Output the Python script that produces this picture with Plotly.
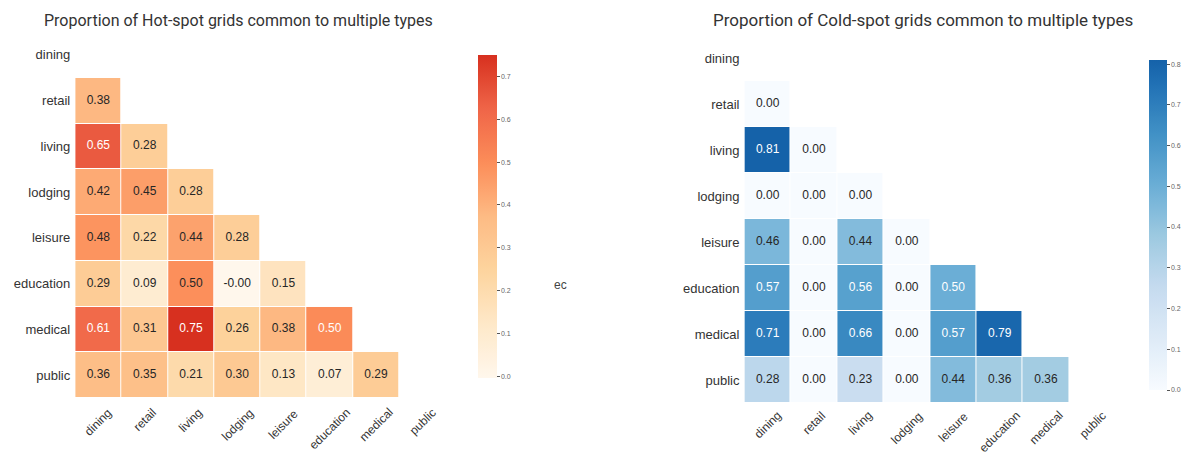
import plotly.graph_objects as go
from plotly.colors import sample_colorscale

categories = ["dining", "retail", "living", "lodging", "leisure", "education", "medical", "public"]

# Lower-triangle shares (row i holds columns 0..i-1); diagonal and upper half are masked.
hot_rows = [
    [],
    [0.38],
    [0.65, 0.28],
    [0.42, 0.45, 0.28],
    [0.48, 0.22, 0.44, 0.28],
    [0.29, 0.09, 0.4951, -0.004, 0.15],
    [0.61, 0.31, 0.75, 0.26, 0.38, 0.5049],
    [0.36, 0.35, 0.21, 0.30, 0.13, 0.07, 0.29],
]
cold_rows = [
    [],
    [0.00],
    [0.81, 0.00],
    [0.00, 0.00, 0.00],
    [0.46, 0.00, 0.44, 0.00],
    [0.57, 0.00, 0.56, 0.00, 0.50],
    [0.71, 0.00, 0.66, 0.00, 0.57, 0.79],
    [0.28, 0.00, 0.23, 0.00, 0.44, 0.36, 0.36],
]

hot_title = "Proportion of Hot-spot grids common to multiple types"
cold_title = "Proportion of Cold-spot grids common to multiple types"

W, H = 1192, 454
LABEL_FONT = "Liberation Sans, Arial, sans-serif"
TITLE_FONT = "Roboto, sans-serif"


def full_matrix(rows):
    n = len(categories)
    return [[rows[i][j] if j < len(rows[i]) else None for j in range(n)] for i in range(n)]


def sub_scale(name, lo, hi, n=41):
    """Colour scale spanning [lo, hi] of a 0..1 sequential palette."""
    pts = [k / (n - 1) for k in range(n)]
    vals = [min(1.0, max(0.0, lo + (hi - lo) * t)) for t in pts]
    cols = sample_colorscale(name, vals)
    return [[p, c] for p, c in zip(pts, cols)]


def px_x(p):
    return p / W


def px_y(p):
    return 1 - p / H


fig = go.Figure()
annotations = []


def add_panel(rows, palette, xaxis, yaxis, cbar, light_text_above):
    z = full_matrix(rows)
    flat = [v for r in rows for v in r]
    zmin, zmax = min(flat), max(flat)
    scale = sub_scale(palette, max(0.0, zmin), zmax)
    fig.add_trace(go.Heatmap(
        z=z, x=categories, y=categories,
        zmin=zmin, zmax=zmax, colorscale=scale,
        xgap=1, ygap=1, hoverongaps=False,
        xaxis=xaxis, yaxis=yaxis,
        colorbar=cbar,
    ))
    tx, ty, tt, tc = [], [], [], []
    for i, r in enumerate(rows):
        for j, v in enumerate(r):
            tx.append(categories[j])
            ty.append(categories[i])
            tt.append(f"{v:.2f}")
            tc.append("white" if v > light_text_above else "#262626")
    fig.add_trace(go.Scatter(
        x=tx, y=ty, text=tt, mode="text",
        textfont=dict(family=LABEL_FONT, size=12, color=tc),
        xaxis=xaxis, yaxis=yaxis, hoverinfo="skip", showlegend=False,
    ))


cbar_common = dict(
    thickness=19, outlinewidth=0, dtick=0.1, tickformat=".1f",
    ticks="outside", ticklen=3, tickcolor="#555", tickwidth=1,
    tickfont=dict(family=LABEL_FONT, size=7, color="#666"),
    xanchor="left", yanchor="middle", lenmode="fraction",
)

add_panel(hot_rows, "OrRd", "x", "y",
          dict(cbar_common, x=px_x(473), y=px_y(216.5), len=343 / H, thickness=19), 0.50)
add_panel(cold_rows, "Blues", "x2", "y2",
          dict(cbar_common, x=px_x(1151), y=px_y(225), len=350 / H, thickness=18), 0.48)

axis_x = dict(type="category", range=[-0.5, 7.5], showgrid=False, zeroline=False,
              showticklabels=False, ticks="", showline=False)
axis_y = dict(type="category", range=[7.5, -0.5], showgrid=False, zeroline=False,
              ticks="", showline=False, ticklabelstandoff=4,
              tickfont=dict(family=LABEL_FONT, size=13, color="#333"))

fig.update_layout(
    width=W, height=H, margin=dict(l=0, r=0, t=0, b=0),
    paper_bgcolor="white", plot_bgcolor="white", showlegend=False,
    xaxis=dict(axis_x, domain=[px_x(76), px_x(450)], anchor="y"),
    yaxis=dict(axis_y, domain=[px_y(398), px_y(32)], anchor="x"),
    xaxis2=dict(axis_x, domain=[px_x(752), px_x(1127)], anchor="y2"),
    yaxis2=dict(axis_y, domain=[px_y(403), px_y(35)], anchor="x2"),
)

# Rotated column labels, centred under each column
for xa, ytop in (("x", px_y(403)), ("x2", px_y(406))):
    for c in categories:
        annotations.append(dict(
            x=c, xref=xa, y=ytop, yref="paper", text=c, showarrow=False,
            textangle=-45, xanchor="center", yanchor="top",
            font=dict(family=LABEL_FONT, size=12, color="#333"),
        ))

annotations += [
    dict(x=px_x(241), y=px_y(20), xref="paper", yref="paper", text=hot_title,
         showarrow=False, xanchor="center", yanchor="middle",
         font=dict(family=TITLE_FONT, size=16, color="#333")),
    dict(x=px_x(932), y=px_y(20), xref="paper", yref="paper", text=cold_title,
         showarrow=False, xanchor="center", yanchor="middle",
         font=dict(family=TITLE_FONT, size=17, color="#333")),
    dict(x=px_x(566), y=px_y(285), xref="paper", yref="paper", text="ec",
         showarrow=False, xanchor="center", yanchor="middle",
         font=dict(family=LABEL_FONT, size=12, color="#444")),
]

fig.update_layout(annotations=annotations)
fig.write_html("out.html")
